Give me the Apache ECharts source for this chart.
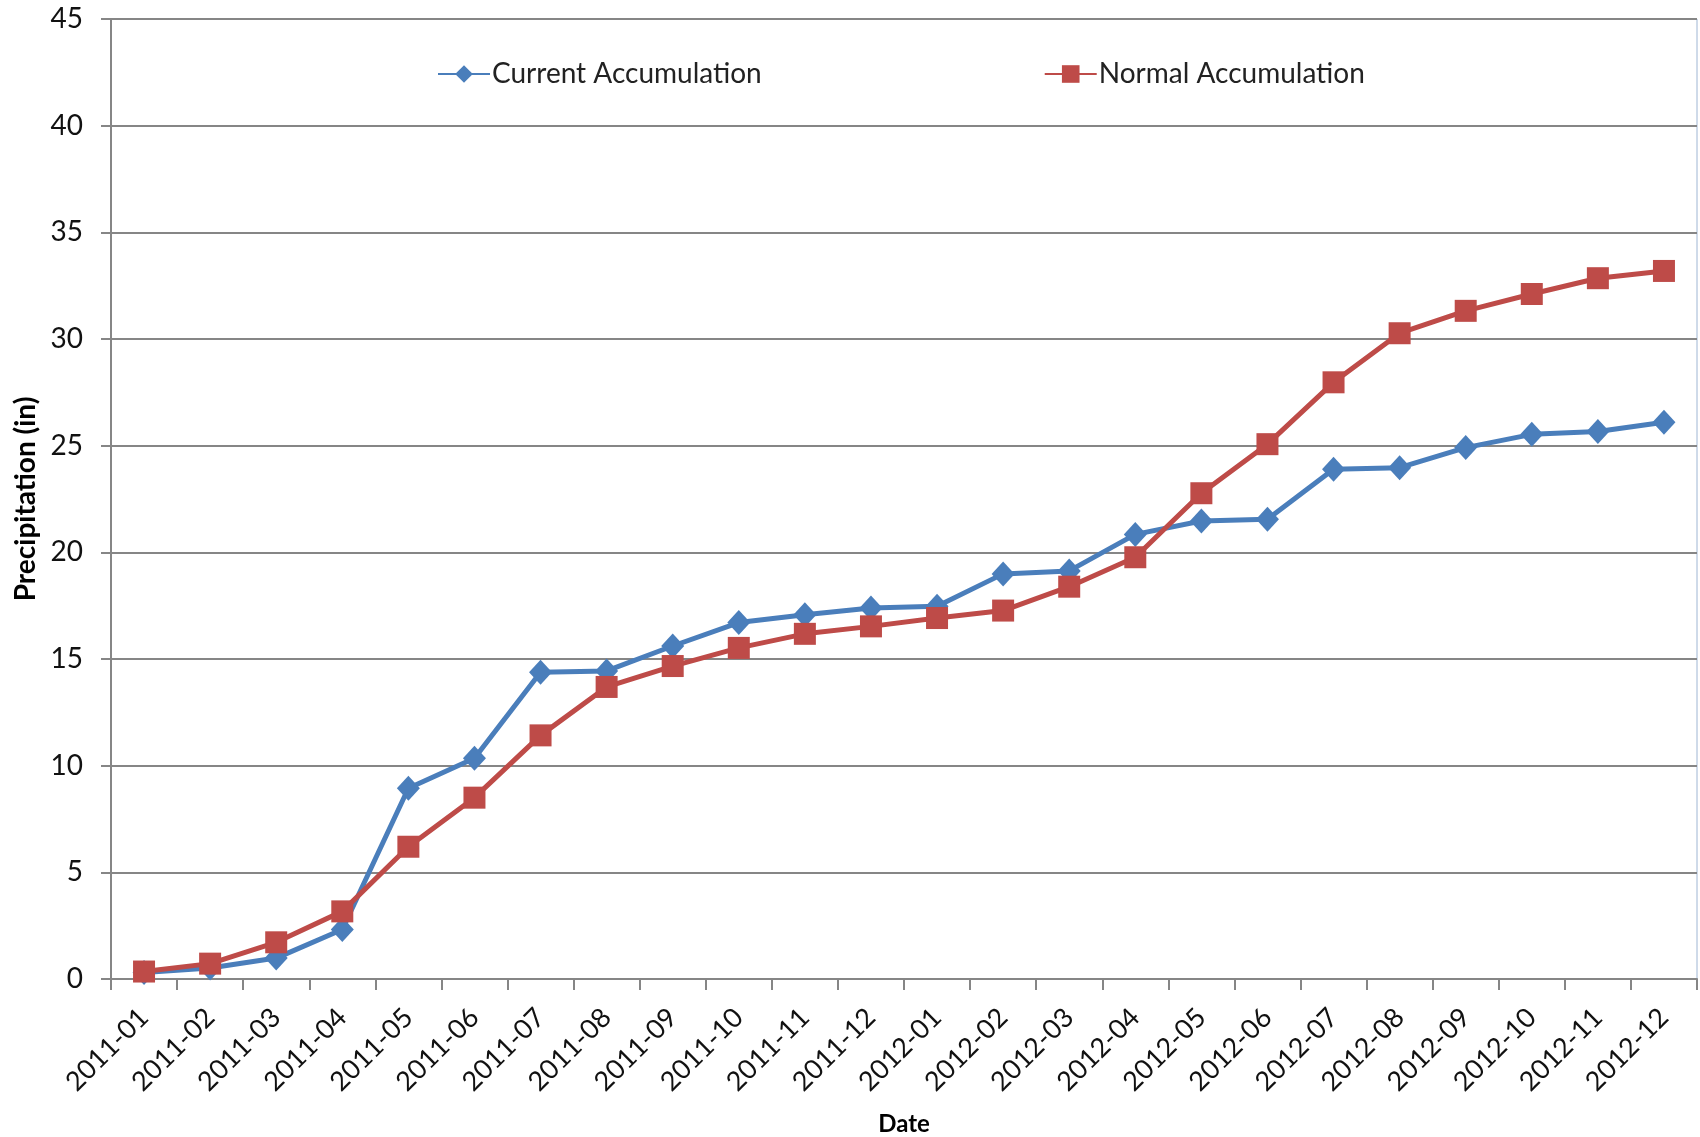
<!DOCTYPE html>
<html>
<head>
<meta charset="utf-8">
<script src="https://cdn.jsdelivr.net/npm/echarts@6/dist/echarts.min.js"></script>
<style>
    html, body { margin: 0; padding: 0; background: #fff; }
    #chart { width: 1700px; height: 1137px; }
</style>
</head>
<body>
<div id="chart"></div>
<script>
var months = ['2011-01', '2011-02', '2011-03', '2011-04', '2011-05', '2011-06',
    '2011-07', '2011-08', '2011-09', '2011-10', '2011-11', '2011-12',
    '2012-01', '2012-02', '2012-03', '2012-04', '2012-05', '2012-06',
    '2012-07', '2012-08', '2012-09', '2012-10', '2012-11', '2012-12'];

var currentAccum = [0.3, 0.52, 0.98, 2.32, 8.94, 10.35, 14.38, 14.44, 15.61, 16.71, 17.07, 17.39,
    17.47, 18.99, 19.13, 20.84, 21.47, 21.55, 23.89, 23.97, 24.91, 25.53, 25.66, 26.1];

var normalAccum = [0.35, 0.72, 1.72, 3.17, 6.2, 8.5, 11.42, 13.69, 14.67, 15.52, 16.18, 16.53,
    16.92, 17.27, 18.39, 19.77, 22.77, 25.07, 27.97, 30.27, 31.32, 32.11, 32.85, 33.19];

var yTicks = {min: 0, max: 45, step: 5};

var axisGray = '#868686';
var font = 'Lato, "Open Sans", sans-serif';

var chart = echarts.init(document.getElementById('chart'));

var option = {
    backgroundColor: '#ffffff',
    animation: false,
    grid: {
        left: 111,
        right: 3,
        top: 19,
        bottom: 158,
        outerBoundsMode: 'none',
        show: true,
        borderColor: '#9fb6d4',
        borderWidth: 1
    },
    legend: {
        left: 432,
        top: 55,
        itemWidth: 52,
        itemHeight: 22,
        itemGap: 282,
        textStyle: {fontFamily: font, fontSize: 28, color: '#222', padding: [0, 0, 0, -3]},
        data: ['Current Accumulation', 'Normal Accumulation']
    },
    xAxis: {
        type: 'category',
        data: months,
        boundaryGap: true,
        name: 'Date',
        nameLocation: 'middle',
        nameGap: 133,
        nameTextStyle: {fontFamily: font, fontSize: 24, fontWeight: 'bold', color: '#000'},
        axisLine: {lineStyle: {color: axisGray, width: 2}},
        axisTick: {show: true, length: 11, interval: 0, lineStyle: {color: axisGray, width: 2}},
        axisLabel: {
            interval: 0,
            rotate: 45,
            margin: 34,
            fontFamily: font,
            fontSize: 27,
            color: '#111'
        },
        splitLine: {show: false}
    },
    yAxis: {
        type: 'value',
        min: yTicks.min,
        max: yTicks.max,
        interval: yTicks.step,
        name: 'Precipitation (in)',
        nameLocation: 'middle',
        nameGap: 70,
        nameTextStyle: {fontFamily: font, fontSize: 28, fontWeight: 'bold', color: '#000'},
        axisLine: {show: true, lineStyle: {color: axisGray, width: 2}},
        axisTick: {show: true, length: 10, lineStyle: {color: axisGray, width: 2}},
        axisLabel: {margin: 28, fontFamily: font, fontSize: 28, color: '#111'},
        splitLine: {show: true, lineStyle: {color: axisGray, width: 2}}
    },
    series: [{
        name: 'Current Accumulation',
        type: 'line',
        data: currentAccum,
        symbol: 'diamond',
        symbolSize: [23, 25],
        lineStyle: {color: '#4a7ebb', width: 5},
        itemStyle: {color: '#4a7ebb'},
        z: 3
    }, {
        name: 'Normal Accumulation',
        type: 'line',
        data: normalAccum,
        symbol: 'rect',
        symbolSize: 22,
        lineStyle: {color: '#be4b48', width: 5},
        itemStyle: {color: '#be4b48'},
        z: 4
    }]
};

chart.setOption(option);
</script>
</body>
</html>
